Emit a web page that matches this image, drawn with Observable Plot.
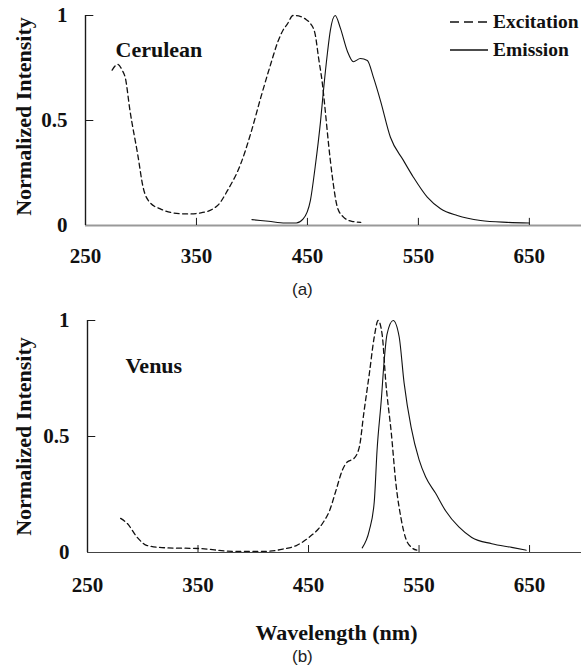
<!DOCTYPE html>
<html>
<head>
<meta charset="utf-8">
<script src="https://cdn.jsdelivr.net/npm/d3@7"></script>
<script src="https://cdn.jsdelivr.net/npm/@observablehq/plot@0.6"></script>
<style>
  body { margin: 0; background: #fff; }
  #root { position: relative; width: 581px; height: 668px; overflow: hidden; }
  .panel { position: absolute; left: 0; }
  .panel svg { overflow: visible; }
  .tag { position: absolute; font-family: "Liberation Sans", Arial, sans-serif; font-size: 17px; line-height: 17px; color: #222; }
  .legend { position: absolute; left: 450px; top: 8px; font-family: "Liberation Serif", "Times New Roman", serif; font-weight: bold; font-size: 19.5px; color: #111; }
  .legend .row { display: flex; align-items: center; height: 28px; }
  .legend svg { margin-right: 5px; }
</style>
</head>
<body>
<div id="root"></div>
<script>
// Axis ticks and labels
const xTicks = [250, 350, 450, 550, 650];
const yTicks = [0, 0.5, 1];
const seriesNames = ["Excitation", "Emission"];
const proteinNames = ["Cerulean", "Venus"];
const panelTags = ["(a)", "(b)"];
const yTitle = "Normalized Intensity";
const xTitle = "Wavelength (nm)";

// Cerulean excitation spectrum
const ceruleanExWavelength = [274, 279, 283, 286, 290, 297, 302, 308, 317, 329, 342, 354, 369, 378, 390, 399, 408, 417, 423, 428, 432, 437, 444, 449, 453, 457, 460, 463.5, 466, 469, 472.5, 477, 482.5, 490, 498];
const ceruleanExIntensity  = [0.74, 0.767, 0.74, 0.70, 0.55, 0.34, 0.18, 0.11, 0.08, 0.06, 0.055, 0.06, 0.095, 0.167, 0.295, 0.44, 0.61, 0.77, 0.87, 0.93, 0.96, 1.0, 0.995, 0.98, 0.96, 0.91, 0.80, 0.675, 0.55, 0.39, 0.23, 0.087, 0.04, 0.02, 0.015];

// Cerulean emission spectrum
const ceruleanEmWavelength = [400, 415, 430, 440, 446, 452.7, 457, 461.7, 464.4, 468, 470.7, 475, 479.7, 486, 491.4, 497.7, 504, 509.5, 515.8, 524.8, 536.5, 545.5, 558, 570, 585, 606, 630, 650];
const ceruleanEmIntensity  = [0.028, 0.02, 0.012, 0.012, 0.03, 0.12, 0.28, 0.49, 0.64, 0.82, 0.93, 1.0, 0.94, 0.83, 0.78, 0.795, 0.786, 0.705, 0.595, 0.42, 0.31, 0.23, 0.135, 0.08, 0.048, 0.024, 0.015, 0.012];

// Venus excitation spectrum
const venusExWavelength = [280, 286, 295, 304, 322, 352, 381, 412, 427, 439, 449, 462.6, 469, 475, 480.6, 485, 491, 496, 500, 505, 509.5, 513, 516.6, 520, 525, 529, 534, 538, 543.7, 548];
const venusExIntensity  = [0.147, 0.125, 0.065, 0.03, 0.02, 0.017, 0.005, 0.005, 0.015, 0.03, 0.06, 0.125, 0.18, 0.27, 0.355, 0.39, 0.405, 0.455, 0.6, 0.77, 0.93, 1.0, 0.94, 0.73, 0.51, 0.30, 0.14, 0.06, 0.02, 0.01];

// Venus emission spectrum
const venusEmWavelength = [498.6, 505, 509.5, 512, 515.8, 518.5, 521, 526.6, 532, 536.5, 542.8, 550, 556, 565, 574, 586, 597.7, 615.8, 633.8, 647];
const venusEmIntensity  = [0.02, 0.095, 0.22, 0.44, 0.655, 0.83, 0.94, 1.0, 0.93, 0.73, 0.54, 0.40, 0.325, 0.255, 0.18, 0.11, 0.065, 0.038, 0.022, 0.01];

const rows = (wl, v) => wl.map((w, i) => ({wl: w, v: v[i]}));

const serif = "'Liberation Serif', 'Times New Roman', serif";
const ink = "#111";

function spectrumPanel(o) {
  return Plot.plot({
    width: 581,
    height: o.height,
    marginLeft: o.marginLeft,
    marginRight: 0,
    marginTop: o.marginTop,
    marginBottom: o.marginBottom,
    style: {fontFamily: serif, background: "white", overflow: "visible"},
    x: {domain: [250, 697]},
    y: {domain: [0, 1]},
    marks: [
      // axis lines with inward ticks
      Plot.ruleY([0], {stroke: o.baseStroke, strokeWidth: o.baseWidth}),
      Plot.ruleX([250], {y1: 0, y2: 1, stroke: "#1a1a1a", strokeWidth: 1.4}),
      Plot.ruleX(xTicks.slice(1), {y1: 0, y2: o.xTickLen, stroke: "#1a1a1a", strokeWidth: 1}),
      Plot.ruleY([0.5, 1], {x1: 250, x2: 257.5, stroke: "#1a1a1a", strokeWidth: 1}),
      Plot.axisX({ticks: xTicks, tickSize: 0, tickPadding: o.xPad, label: null,
        tickFormat: d => String(d), fontSize: 21, fontWeight: "bold", fontFamily: serif, fill: ink}),
      Plot.axisY({ticks: yTicks, tickSize: 0, tickPadding: 18, label: null,
        tickFormat: d => String(d), fontSize: 21, fontWeight: "bold", fontFamily: serif, fill: ink}),
      // spectra
      Plot.line(o.ex, {x: "wl", y: "v", stroke: ink, strokeWidth: 1.3, strokeDasharray: "5,3.5", curve: "monotone-x"}),
      Plot.line(o.em, {x: "wl", y: "v", stroke: ink, strokeWidth: 1.1, curve: "monotone-x"}),
      // protein name
      Plot.text([o.name], {text: d => d, frameAnchor: "top-left", dx: o.nameDx, dy: o.nameDy,
        textAnchor: "start", lineAnchor: "middle", fontSize: 22, fontWeight: "bold", fontFamily: serif, fill: ink}),
      // axis titles
      Plot.text([yTitle], {text: d => d, frameAnchor: "left", rotate: -90, dx: o.yTitleDx, dy: o.yTitleDy,
        textAnchor: "middle", lineAnchor: "middle", fontSize: 22, fontWeight: "bold", fontFamily: serif, fill: ink}),
      o.showXTitle ? Plot.text([xTitle], {text: d => d, frameAnchor: "bottom", dx: 2, dy: 80,
        textAnchor: "middle", lineAnchor: "middle", fontSize: 22, fontWeight: "bold", fontFamily: serif, fill: ink}) : null
    ]
  });
}

const root = document.getElementById("root");

function place(node, top, cls) {
  const div = document.createElement("div");
  div.className = cls;
  div.style.top = top + "px";
  div.appendChild(node);
  root.appendChild(div);
  return div;
}

// (a) Cerulean
const panelA = place(spectrumPanel({
  ex: rows(ceruleanExWavelength, ceruleanExIntensity),
  em: rows(ceruleanEmWavelength, ceruleanEmIntensity),
  name: proteinNames[0], nameDx: 30, nameDy: 34,
  height: 270, marginLeft: 85, marginTop: 15, marginBottom: 45,
  baseStroke: "#999", baseWidth: 2, xTickLen: 0.034, xPad: 23,
  yTitleDx: -62, yTitleDy: -4, showXTitle: false
}), 0, "panel");

// legend for the line styles
const legend = document.createElement("div");
legend.className = "legend";
seriesNames.forEach((s, i) => {
  const row = document.createElement("div");
  row.className = "row";
  const sw = d3.create("svg").attr("width", 38).attr("height", 4);
  sw.append("line").attr("x1", 0).attr("x2", 38).attr("y1", 2).attr("y2", 2)
    .attr("stroke", ink).attr("stroke-width", 1.3)
    .attr("stroke-dasharray", i === 0 ? "9,5" : null);
  row.appendChild(sw.node());
  const t = document.createElement("span");
  t.textContent = s;
  row.appendChild(t);
  legend.appendChild(row);
});
root.appendChild(legend);

const tagA = document.createElement("div");
tagA.className = "tag";
tagA.style.left = "292px";
tagA.style.top = "281px";
tagA.textContent = panelTags[0];
root.appendChild(tagA);

// (b) Venus
place(spectrumPanel({
  ex: rows(venusExWavelength, venusExIntensity),
  em: rows(venusEmWavelength, venusEmIntensity),
  name: proteinNames[1], nameDx: 38, nameDy: 45,
  height: 348, marginLeft: 87, marginTop: 20, marginBottom: 96,
  baseStroke: "#444", baseWidth: 1.2, xTickLen: 0.03, xPad: 25,
  yTitleDx: -64, yTitleDy: 0, showXTitle: true
}), 300, "panel");

const tagB = document.createElement("div");
tagB.className = "tag";
tagB.style.left = "292px";
tagB.style.top = "648px";
tagB.textContent = panelTags[1];
root.appendChild(tagB);
</script>
</body>
</html>
